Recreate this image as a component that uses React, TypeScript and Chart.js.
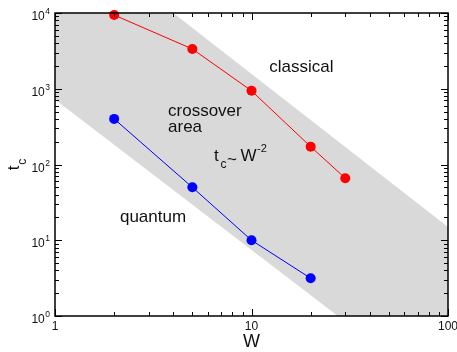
import React, { useEffect, useRef } from "react";
import { Chart, registerables } from "chart.js";

Chart.register(...registerables);

// ---- data ----
const W_CLASSICAL = [2, 5, 10, 20, 30];
const T_CLASSICAL = [9400, 3350, 940, 172, 66];
const W_QUANTUM = [2, 5, 10, 20];
const T_QUANTUM = [400, 50, 10, 3.15];

// crossover band polygon (W, t_c)
const BAND_W = [1, 4, 100, 100, 27.5, 1];
const BAND_T = [10000, 10000, 15, 1, 1, 720];

const X_TICKS = [1, 10, 100];
const X_TICK_LABELS = ["1", "10", "100"];
const Y_TICKS = [1, 10, 100, 1000, 10000];
const Y_TICK_BASES = ["10", "10", "10", "10", "10"];
const Y_TICK_EXPS = ["0", "1", "2", "3", "4"];

const X_LABEL = "W";
const Y_LABEL_MAIN = "t";
const Y_LABEL_SUB = "c";

const FONT = "'Liberation Sans', Arial, Helvetica, sans-serif";

function minorTicks(min: number, max: number): number[] {
  const out: number[] = [];
  for (let d = min; d < max; d *= 10) {
    for (let k = 2; k <= 9; k++) out.push(d * k);
  }
  return out;
}

const annotationPlugin = {
  id: "decor",
  beforeDatasetsDraw(chart: any) {
    const { ctx, chartArea } = chart;
    const xs = chart.scales.x;
    const ys = chart.scales.y;
    ctx.save();
    ctx.beginPath();
    ctx.rect(chartArea.left, chartArea.top, chartArea.right - chartArea.left, chartArea.bottom - chartArea.top);
    ctx.clip();
    ctx.beginPath();
    BAND_W.forEach((w, i) => {
      const px = xs.getPixelForValue(w);
      const py = ys.getPixelForValue(BAND_T[i]);
      if (i === 0) ctx.moveTo(px, py);
      else ctx.lineTo(px, py);
    });
    ctx.closePath();
    ctx.fillStyle = "#d9d9d9";
    ctx.fill();
    ctx.restore();
  },
  afterDatasetsDraw(chart: any) {
    const { ctx, chartArea } = chart;
    const xs = chart.scales.x;
    const ys = chart.scales.y;
    const { left, right, top, bottom } = chartArea;
    ctx.save();
    // frame
    ctx.strokeStyle = "#000";
    ctx.lineWidth = 1.5;
    ctx.strokeRect(left, top, right - left, bottom - top);

    // ticks
    ctx.lineWidth = 1;
    const major = 7;
    const minor = 4;
    const drawX = (v: number, len: number) => {
      const p = Math.round(xs.getPixelForValue(v)) + 0.5;
      ctx.beginPath();
      ctx.moveTo(p, bottom);
      ctx.lineTo(p, bottom - len);
      ctx.moveTo(p, top);
      ctx.lineTo(p, top + len);
      ctx.stroke();
    };
    const drawY = (v: number, len: number) => {
      const p = Math.round(ys.getPixelForValue(v)) + 0.5;
      ctx.beginPath();
      ctx.moveTo(left, p);
      ctx.lineTo(left + len, p);
      ctx.moveTo(right, p);
      ctx.lineTo(right - len, p);
      ctx.stroke();
    };
    X_TICKS.forEach((v) => drawX(v, major));
    minorTicks(1, 100).forEach((v) => drawX(v, minor));
    Y_TICKS.forEach((v) => drawY(v, major));
    minorTicks(1, 10000).forEach((v) => drawY(v, minor));

    // tick labels
    ctx.fillStyle = "#111";
    ctx.textBaseline = "alphabetic";
    ctx.font = `12px ${FONT}`;
    ctx.textAlign = "center";
    X_TICKS.forEach((v, i) => {
      ctx.fillText(X_TICK_LABELS[i], xs.getPixelForValue(v), bottom + 14);
    });
    Y_TICKS.forEach((v, i) => {
      const py = ys.getPixelForValue(v);
      ctx.font = `8.5px ${FONT}`;
      const ew = ctx.measureText(Y_TICK_EXPS[i]).width;
      ctx.textAlign = "right";
      ctx.fillText(Y_TICK_EXPS[i], left - 5, py + 1);
      ctx.font = `12px ${FONT}`;
      ctx.fillText(Y_TICK_BASES[i], left - 5 - ew - 0.5, py + 7);
    });

    // axis titles
    ctx.textAlign = "center";
    ctx.font = `18px ${FONT}`;
    ctx.fillText(X_LABEL, (left + right) / 2, bottom + 30.5);

    ctx.save();
    ctx.translate(19, (top + bottom) / 2);
    ctx.rotate(-Math.PI / 2);
    ctx.textAlign = "left";
    ctx.font = `17px ${FONT}`;
    const tw = ctx.measureText(Y_LABEL_MAIN).width;
    ctx.font = `12px ${FONT}`;
    const cw = ctx.measureText(Y_LABEL_SUB).width;
    const start = -(tw + cw + 1) / 2;
    ctx.font = `17px ${FONT}`;
    ctx.fillText(Y_LABEL_MAIN, start, 0);
    ctx.font = `12px ${FONT}`;
    ctx.fillText(Y_LABEL_SUB, start + tw + 1, 7);
    ctx.restore();

    // region annotations (placed in data coordinates)
    ctx.textAlign = "left";
    ctx.font = `17px ${FONT}`;
    const put = (txt: string, w: number, t: number) =>
      ctx.fillText(txt, xs.getPixelForValue(w), ys.getPixelForValue(t));
    put("classical", 12.3, 1660);
    put("crossover", 3.76, 441);
    put("area", 3.76, 266);
    put("quantum", 2.14, 17.6);

    // t_c ~ W^-2
    const ax = xs.getPixelForValue(6.45);
    const ay = ys.getPixelForValue(110);
    ctx.font = `17px ${FONT}`;
    ctx.fillText("t", ax, ay);
    ctx.font = `12px ${FONT}`;
    ctx.fillText("c", ax + 6.5, ay + 7);
    ctx.font = `17px ${FONT}`;
    ctx.fillText("~", ax + 13, ay + 4);
    ctx.fillText("W", ax + 26.5, ay);
    ctx.font = `11px ${FONT}`;
    ctx.fillText("-2", ax + 43, ay - 9);

    ctx.restore();
  },
};

export default function App() {
  const ref = useRef<HTMLCanvasElement | null>(null);
  useEffect(() => {
    if (!ref.current) return;
    const chart = new Chart(ref.current, {
      type: "scatter",
      data: {
        datasets: [
          {
            label: "classical",
            data: W_CLASSICAL.map((w, i) => ({ x: w, y: T_CLASSICAL[i] })),
            showLine: true,
            borderColor: "#ff0000",
            backgroundColor: "#ff0000",
            borderWidth: 1,
            pointRadius: 5,
            pointBorderWidth: 0,
            clip: false,
          } as any,
          {
            label: "quantum",
            data: W_QUANTUM.map((w, i) => ({ x: w, y: T_QUANTUM[i] })),
            showLine: true,
            borderColor: "#0000ff",
            backgroundColor: "#0000ff",
            borderWidth: 1,
            pointRadius: 5,
            pointBorderWidth: 0,
            clip: false,
          } as any,
        ],
      },
      options: {
        animation: false,
        responsive: false,
        devicePixelRatio: 1,
        layout: { padding: { left: 55, top: 13, right: 9, bottom: 36 } },
        plugins: { legend: { display: false }, tooltip: { enabled: false } },
        scales: {
          x: { type: "logarithmic", min: 1, max: 100, display: false },
          y: { type: "logarithmic", min: 1, max: 10000, display: false },
        },
      },
      plugins: [annotationPlugin],
    });
    return () => chart.destroy();
  }, []);
  return (
    <div style={{ position: "absolute", left: 0, top: 0, width: 457, height: 352, background: "#fff" }}>
      <canvas ref={ref} width={457} height={352} style={{ display: "block" }} />
    </div>
  );
}
